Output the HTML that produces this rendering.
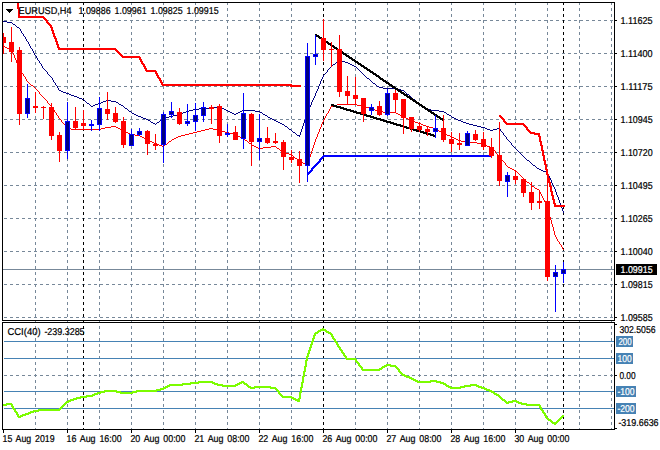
<!DOCTYPE html>
<html><head><meta charset="utf-8"><title>EURUSD,H4</title>
<style>html,body{margin:0;padding:0;background:#fff;overflow:hidden}svg{display:block}text{font-family:"Liberation Sans",sans-serif;font-size:10px;text-rendering:geometricPrecision;fill:#000;stroke:currentColor;stroke-width:0.22px}</style></head><body>
<svg width="660" height="450" viewBox="0 0 660 450">
<rect x="0" y="0" width="660" height="450" fill="#fff"/>
<defs>
<clipPath id="cm"><rect x="3" y="3" width="611" height="317"/></clipPath>
<clipPath id="cc"><rect x="3" y="323" width="611" height="106"/></clipPath>
</defs>
<line x1="3" y1="20.5" x2="614" y2="20.5" stroke="#778899" stroke-width="1" stroke-dasharray="3 3" stroke-dashoffset="5" shape-rendering="crispEdges"/>
<line x1="3" y1="53.5" x2="614" y2="53.5" stroke="#778899" stroke-width="1" stroke-dasharray="3 3" stroke-dashoffset="5" shape-rendering="crispEdges"/>
<line x1="3" y1="86.5" x2="614" y2="86.5" stroke="#778899" stroke-width="1" stroke-dasharray="3 3" stroke-dashoffset="5" shape-rendering="crispEdges"/>
<line x1="3" y1="119.5" x2="614" y2="119.5" stroke="#778899" stroke-width="1" stroke-dasharray="3 3" stroke-dashoffset="5" shape-rendering="crispEdges"/>
<line x1="3" y1="152.5" x2="614" y2="152.5" stroke="#778899" stroke-width="1" stroke-dasharray="3 3" stroke-dashoffset="5" shape-rendering="crispEdges"/>
<line x1="3" y1="185.5" x2="614" y2="185.5" stroke="#778899" stroke-width="1" stroke-dasharray="3 3" stroke-dashoffset="5" shape-rendering="crispEdges"/>
<line x1="3" y1="218.5" x2="614" y2="218.5" stroke="#778899" stroke-width="1" stroke-dasharray="3 3" stroke-dashoffset="5" shape-rendering="crispEdges"/>
<line x1="3" y1="251.5" x2="614" y2="251.5" stroke="#778899" stroke-width="1" stroke-dasharray="3 3" stroke-dashoffset="5" shape-rendering="crispEdges"/>
<line x1="3" y1="284.5" x2="614" y2="284.5" stroke="#778899" stroke-width="1" stroke-dasharray="3 3" stroke-dashoffset="5" shape-rendering="crispEdges"/>
<line x1="3" y1="317.5" x2="614" y2="317.5" stroke="#778899" stroke-width="1" stroke-dasharray="3 3" stroke-dashoffset="5" shape-rendering="crispEdges"/>
<line x1="35.5" y1="3" x2="35.5" y2="429" stroke="#778899" stroke-width="1" stroke-dasharray="3 3" stroke-dashoffset="1" shape-rendering="crispEdges"/>
<line x1="67.5" y1="3" x2="67.5" y2="429" stroke="#778899" stroke-width="1" stroke-dasharray="3 3" stroke-dashoffset="1" shape-rendering="crispEdges"/>
<line x1="99.5" y1="3" x2="99.5" y2="429" stroke="#778899" stroke-width="1" stroke-dasharray="3 3" stroke-dashoffset="1" shape-rendering="crispEdges"/>
<line x1="131.5" y1="3" x2="131.5" y2="429" stroke="#778899" stroke-width="1" stroke-dasharray="3 3" stroke-dashoffset="1" shape-rendering="crispEdges"/>
<line x1="163.5" y1="3" x2="163.5" y2="429" stroke="#778899" stroke-width="1" stroke-dasharray="3 3" stroke-dashoffset="1" shape-rendering="crispEdges"/>
<line x1="195.5" y1="3" x2="195.5" y2="429" stroke="#778899" stroke-width="1" stroke-dasharray="3 3" stroke-dashoffset="1" shape-rendering="crispEdges"/>
<line x1="227.5" y1="3" x2="227.5" y2="429" stroke="#778899" stroke-width="1" stroke-dasharray="3 3" stroke-dashoffset="1" shape-rendering="crispEdges"/>
<line x1="259.5" y1="3" x2="259.5" y2="429" stroke="#778899" stroke-width="1" stroke-dasharray="3 3" stroke-dashoffset="1" shape-rendering="crispEdges"/>
<line x1="291.5" y1="3" x2="291.5" y2="429" stroke="#778899" stroke-width="1" stroke-dasharray="3 3" stroke-dashoffset="1" shape-rendering="crispEdges"/>
<line x1="323.5" y1="3" x2="323.5" y2="429" stroke="#778899" stroke-width="1" stroke-dasharray="3 3" stroke-dashoffset="1" shape-rendering="crispEdges"/>
<line x1="355.5" y1="3" x2="355.5" y2="429" stroke="#778899" stroke-width="1" stroke-dasharray="3 3" stroke-dashoffset="1" shape-rendering="crispEdges"/>
<line x1="387.5" y1="3" x2="387.5" y2="429" stroke="#778899" stroke-width="1" stroke-dasharray="3 3" stroke-dashoffset="1" shape-rendering="crispEdges"/>
<line x1="419.5" y1="3" x2="419.5" y2="429" stroke="#778899" stroke-width="1" stroke-dasharray="3 3" stroke-dashoffset="1" shape-rendering="crispEdges"/>
<line x1="451.5" y1="3" x2="451.5" y2="429" stroke="#778899" stroke-width="1" stroke-dasharray="3 3" stroke-dashoffset="1" shape-rendering="crispEdges"/>
<line x1="483.5" y1="3" x2="483.5" y2="429" stroke="#778899" stroke-width="1" stroke-dasharray="3 3" stroke-dashoffset="1" shape-rendering="crispEdges"/>
<line x1="515.5" y1="3" x2="515.5" y2="429" stroke="#778899" stroke-width="1" stroke-dasharray="3 3" stroke-dashoffset="1" shape-rendering="crispEdges"/>
<line x1="547.5" y1="3" x2="547.5" y2="429" stroke="#778899" stroke-width="1" stroke-dasharray="3 3" stroke-dashoffset="1" shape-rendering="crispEdges"/>
<line x1="579.5" y1="3" x2="579.5" y2="429" stroke="#778899" stroke-width="1" stroke-dasharray="3 3" stroke-dashoffset="1" shape-rendering="crispEdges"/>
<line x1="611.5" y1="3" x2="611.5" y2="429" stroke="#778899" stroke-width="1" stroke-dasharray="3 3" stroke-dashoffset="1" shape-rendering="crispEdges"/>
<line x1="3" y1="375.5" x2="614" y2="375.5" stroke="#778899" stroke-width="1" stroke-dasharray="3 3" stroke-dashoffset="5" shape-rendering="crispEdges"/>
<line x1="83.5" y1="3" x2="83.5" y2="429" stroke="#000" stroke-width="1" stroke-dasharray="3 3" stroke-dashoffset="1" shape-rendering="crispEdges"/>
<line x1="323.5" y1="3" x2="323.5" y2="429" stroke="#000" stroke-width="1" stroke-dasharray="3 3" stroke-dashoffset="1" shape-rendering="crispEdges"/>
<line x1="563.5" y1="3" x2="563.5" y2="429" stroke="#000" stroke-width="1" stroke-dasharray="3 3" stroke-dashoffset="1" shape-rendering="crispEdges"/>
<g clip-path="url(#cm)">
<line x1="3" y1="269.5" x2="614" y2="269.5" stroke="#778899" stroke-width="1" shape-rendering="crispEdges"/>
<path d="M3 21h4v1h-4zM7 22h5v1h-5zM12 23h1v1h-1zM13 24h2v1h-2zM15 25h1v1h-1zM16 26h1v1h-1zM17 27h2v1h-2zM19 28h1v1h-1zM20 29h1v1h-1zM20 30h1v1h-1zM21 31h1v1h-1zM21 32h1v1h-1zM22 33h1v1h-1zM23 34h1v1h-1zM23 35h1v1h-1zM24 36h1v1h-1zM25 37h1v1h-1zM25 38h1v1h-1zM26 39h1v1h-1zM26 40h1v1h-1zM27 41h1v1h-1zM28 42h1v1h-1zM28 43h1v1h-1zM29 44h1v1h-1zM29 45h1v1h-1zM30 46h1v1h-1zM30 47h1v1h-1zM31 48h1v1h-1zM32 49h1v1h-1zM32 50h1v1h-1zM33 51h1v1h-1zM33 52h1v1h-1zM34 53h1v1h-1zM34 54h1v1h-1zM35 55h1v1h-1zM36 56h1v1h-1zM36 57h1v1h-1zM37 58h1v1h-1zM37 59h1v1h-1zM38 60h1v1h-1zM339 60h2v1h-2zM39 61h1v1h-1zM337 61h2v1h-2zM341 61h4v1h-4zM39 62h1v1h-1zM336 62h1v1h-1zM345 62h3v1h-3zM40 63h1v1h-1zM335 63h1v1h-1zM348 63h2v1h-2zM41 64h1v1h-1zM333 64h2v1h-2zM350 64h2v1h-2zM41 65h1v1h-1zM332 65h1v1h-1zM352 65h2v1h-2zM42 66h1v1h-1zM331 66h1v1h-1zM354 66h2v1h-2zM42 67h1v1h-1zM330 67h1v1h-1zM356 67h1v1h-1zM43 68h1v1h-1zM329 68h1v1h-1zM357 68h1v1h-1zM44 69h1v1h-1zM328 69h1v1h-1zM358 69h1v1h-1zM45 70h1v1h-1zM327 70h1v1h-1zM359 70h1v1h-1zM46 71h1v1h-1zM327 71h1v1h-1zM360 71h1v1h-1zM47 72h1v1h-1zM326 72h1v1h-1zM361 72h1v1h-1zM47 73h1v1h-1zM325 73h1v1h-1zM362 73h1v1h-1zM48 74h1v1h-1zM324 74h1v1h-1zM363 74h1v1h-1zM49 75h1v1h-1zM323 75h1v1h-1zM364 75h1v1h-1zM50 76h1v1h-1zM323 76h1v1h-1zM365 76h1v1h-1zM51 77h1v1h-1zM322 77h1v1h-1zM366 77h1v1h-1zM52 78h1v1h-1zM322 78h1v1h-1zM367 78h2v1h-2zM52 79h1v1h-1zM321 79h1v1h-1zM369 79h1v1h-1zM53 80h1v1h-1zM321 80h1v1h-1zM370 80h1v1h-1zM53 81h1v1h-1zM320 81h1v1h-1zM371 81h1v1h-1zM54 82h1v1h-1zM320 82h1v1h-1zM372 82h1v1h-1zM55 83h1v1h-1zM320 83h1v1h-1zM373 83h2v1h-2zM55 84h1v1h-1zM319 84h1v1h-1zM375 84h1v1h-1zM56 85h1v1h-1zM319 85h1v1h-1zM376 85h1v1h-1zM57 86h1v1h-1zM318 86h1v1h-1zM377 86h2v1h-2zM57 87h1v1h-1zM318 87h1v1h-1zM379 87h4v1h-4zM58 88h1v1h-1zM318 88h1v1h-1zM383 88h14v1h-14zM58 89h1v1h-1zM317 89h1v1h-1zM397 89h4v1h-4zM59 90h2v1h-2zM317 90h1v1h-1zM401 90h3v1h-3zM61 91h2v1h-2zM316 91h1v1h-1zM404 91h1v1h-1zM63 92h3v1h-3zM316 92h1v1h-1zM405 92h1v1h-1zM66 93h3v1h-3zM315 93h1v1h-1zM406 93h1v1h-1zM69 94h2v1h-2zM315 94h1v1h-1zM407 94h2v1h-2zM71 95h3v1h-3zM315 95h1v1h-1zM409 95h1v1h-1zM74 96h3v1h-3zM314 96h1v1h-1zM410 96h1v1h-1zM77 97h2v1h-2zM314 97h1v1h-1zM411 97h1v1h-1zM79 98h3v1h-3zM313 98h1v1h-1zM412 98h1v1h-1zM82 99h2v1h-2zM313 99h1v1h-1zM413 99h2v1h-2zM84 100h1v1h-1zM106 100h5v1h-5zM312 100h1v1h-1zM415 100h1v1h-1zM85 101h1v1h-1zM103 101h3v1h-3zM111 101h5v1h-5zM312 101h1v1h-1zM416 101h1v1h-1zM86 102h1v1h-1zM101 102h2v1h-2zM116 102h2v1h-2zM311 102h1v1h-1zM417 102h2v1h-2zM87 103h2v1h-2zM98 103h3v1h-3zM118 103h1v1h-1zM311 103h1v1h-1zM419 103h1v1h-1zM89 104h1v1h-1zM95 104h3v1h-3zM119 104h2v1h-2zM311 104h1v1h-1zM420 104h1v1h-1zM90 105h1v1h-1zM93 105h2v1h-2zM121 105h2v1h-2zM310 105h1v1h-1zM421 105h2v1h-2zM91 106h2v1h-2zM123 106h1v1h-1zM217 106h3v1h-3zM310 106h1v1h-1zM423 106h1v1h-1zM124 107h1v1h-1zM213 107h4v1h-4zM220 107h2v1h-2zM309 107h1v1h-1zM424 107h1v1h-1zM125 108h2v1h-2zM199 108h14v1h-14zM222 108h2v1h-2zM309 108h1v1h-1zM425 108h2v1h-2zM127 109h1v1h-1zM193 109h6v1h-6zM224 109h2v1h-2zM308 109h1v1h-1zM427 109h4v1h-4zM128 110h1v1h-1zM189 110h4v1h-4zM226 110h2v1h-2zM242 110h13v1h-13zM308 110h1v1h-1zM431 110h8v1h-8zM129 111h2v1h-2zM186 111h3v1h-3zM228 111h2v1h-2zM240 111h2v1h-2zM255 111h5v1h-5zM307 111h1v1h-1zM439 111h5v1h-5zM131 112h1v1h-1zM183 112h3v1h-3zM230 112h2v1h-2zM238 112h2v1h-2zM260 112h2v1h-2zM307 112h1v1h-1zM444 112h2v1h-2zM132 113h2v1h-2zM181 113h2v1h-2zM232 113h2v1h-2zM236 113h2v1h-2zM262 113h1v1h-1zM307 113h1v1h-1zM446 113h1v1h-1zM134 114h2v1h-2zM177 114h4v1h-4zM234 114h2v1h-2zM263 114h2v1h-2zM306 114h1v1h-1zM447 114h2v1h-2zM136 115h2v1h-2zM173 115h4v1h-4zM265 115h2v1h-2zM306 115h1v1h-1zM449 115h2v1h-2zM138 116h3v1h-3zM169 116h4v1h-4zM267 116h1v1h-1zM306 116h1v1h-1zM451 116h1v1h-1zM141 117h2v1h-2zM165 117h4v1h-4zM268 117h2v1h-2zM305 117h1v1h-1zM452 117h2v1h-2zM143 118h3v1h-3zM163 118h2v1h-2zM270 118h2v1h-2zM305 118h1v1h-1zM454 118h2v1h-2zM146 119h2v1h-2zM161 119h2v1h-2zM272 119h2v1h-2zM305 119h1v1h-1zM456 119h2v1h-2zM148 120h2v1h-2zM160 120h1v1h-1zM274 120h2v1h-2zM304 120h1v1h-1zM458 120h3v1h-3zM150 121h1v1h-1zM159 121h1v1h-1zM276 121h2v1h-2zM304 121h1v1h-1zM461 121h2v1h-2zM151 122h2v1h-2zM157 122h2v1h-2zM278 122h2v1h-2zM304 122h1v1h-1zM463 122h3v1h-3zM153 123h2v1h-2zM156 123h1v1h-1zM280 123h2v1h-2zM303 123h1v1h-1zM466 123h3v1h-3zM155 124h1v1h-1zM282 124h2v1h-2zM303 124h1v1h-1zM469 124h4v1h-4zM284 125h1v1h-1zM303 125h1v1h-1zM473 125h4v1h-4zM285 126h2v1h-2zM302 126h1v1h-1zM477 126h4v1h-4zM287 127h1v1h-1zM302 127h1v1h-1zM481 127h4v1h-4zM288 128h1v1h-1zM302 128h1v1h-1zM485 128h2v1h-2zM497 128h3v1h-3zM289 129h2v1h-2zM301 129h1v1h-1zM487 129h3v1h-3zM493 129h4v1h-4zM500 129h1v1h-1zM291 130h1v1h-1zM301 130h1v1h-1zM490 130h3v1h-3zM500 130h1v1h-1zM292 131h1v1h-1zM301 131h1v1h-1zM501 131h1v1h-1zM293 132h2v1h-2zM300 132h1v1h-1zM502 132h1v1h-1zM295 133h1v1h-1zM300 133h1v1h-1zM503 133h1v1h-1zM296 134h1v1h-1zM300 134h1v1h-1zM503 134h1v1h-1zM297 135h3v1h-3zM504 135h1v1h-1zM299 136h1v1h-1zM505 136h1v1h-1zM506 137h1v1h-1zM506 138h1v1h-1zM507 139h1v1h-1zM508 140h1v1h-1zM509 141h1v1h-1zM510 142h1v1h-1zM511 143h1v1h-1zM511 144h1v1h-1zM512 145h1v1h-1zM513 146h1v1h-1zM514 147h1v1h-1zM515 148h1v1h-1zM516 149h1v1h-1zM517 150h1v1h-1zM518 151h1v1h-1zM519 152h1v1h-1zM520 153h1v1h-1zM521 154h1v1h-1zM522 155h1v1h-1zM523 156h1v1h-1zM524 157h1v1h-1zM525 158h1v1h-1zM526 159h1v1h-1zM527 160h2v1h-2zM529 161h1v1h-1zM530 162h1v1h-1zM531 163h1v1h-1zM532 164h1v1h-1zM533 165h2v1h-2zM535 166h1v1h-1zM536 167h1v1h-1zM537 168h2v1h-2zM539 169h2v1h-2zM541 170h2v1h-2zM543 171h3v1h-3zM546 172h2v1h-2zM547 173h1v1h-1zM548 174h1v1h-1zM548 175h1v1h-1zM549 176h1v1h-1zM549 177h1v1h-1zM550 178h1v1h-1zM550 179h1v1h-1zM551 180h1v1h-1zM551 181h1v1h-1zM551 182h1v1h-1zM552 183h1v1h-1zM552 184h1v1h-1zM553 185h1v1h-1zM553 186h1v1h-1zM554 187h1v1h-1zM554 188h1v1h-1zM555 189h1v1h-1zM555 190h1v1h-1zM555 191h1v1h-1zM556 192h1v1h-1zM556 193h1v1h-1zM556 194h1v1h-1zM557 195h1v1h-1zM557 196h1v1h-1zM558 197h1v1h-1zM558 198h1v1h-1zM558 199h1v1h-1zM559 200h1v1h-1zM559 201h1v1h-1zM559 202h1v1h-1zM560 203h1v1h-1zM560 204h1v1h-1zM560 205h1v1h-1zM561 206h1v1h-1zM561 207h1v1h-1zM562 208h1v1h-1zM562 209h1v1h-1zM562 210h1v1h-1zM563 211h1v1h-1zM563 212h1v1h-1z" fill="#000080" shape-rendering="crispEdges"/>
<path d="M3 46h2v1h-2zM5 47h2v1h-2zM7 48h3v1h-3zM10 49h2v1h-2zM11 50h1v1h-1zM12 51h1v1h-1zM12 52h1v1h-1zM13 53h1v1h-1zM13 54h1v1h-1zM14 55h1v1h-1zM14 56h1v1h-1zM14 57h1v1h-1zM15 58h1v1h-1zM15 59h1v1h-1zM16 60h1v1h-1zM16 61h1v1h-1zM16 62h1v1h-1zM17 63h1v1h-1zM17 64h1v1h-1zM18 65h1v1h-1zM18 66h1v1h-1zM19 67h1v1h-1zM19 68h1v1h-1zM20 69h1v1h-1zM20 70h1v1h-1zM21 71h1v1h-1zM21 72h1v1h-1zM22 73h1v1h-1zM23 74h1v1h-1zM23 75h1v1h-1zM24 76h1v1h-1zM25 77h1v1h-1zM25 78h1v1h-1zM26 79h1v1h-1zM26 80h1v1h-1zM27 81h1v1h-1zM28 82h1v1h-1zM29 83h1v1h-1zM30 84h1v1h-1zM31 85h2v1h-2zM33 86h1v1h-1zM34 87h1v1h-1zM35 88h1v1h-1zM36 89h1v1h-1zM37 90h1v1h-1zM38 91h1v1h-1zM39 92h1v1h-1zM39 93h1v1h-1zM40 94h1v1h-1zM41 95h1v1h-1zM42 96h1v1h-1zM43 97h1v1h-1zM44 98h1v1h-1zM45 99h1v1h-1zM46 100h1v1h-1zM47 101h1v1h-1zM47 102h1v1h-1zM48 103h1v1h-1zM49 104h1v1h-1zM337 104h20v1h-20zM50 105h1v1h-1zM333 105h4v1h-4zM357 105h4v1h-4zM51 106h1v1h-1zM331 106h2v1h-2zM361 106h4v1h-4zM52 107h1v1h-1zM330 107h1v1h-1zM365 107h4v1h-4zM52 108h1v1h-1zM330 108h1v1h-1zM369 108h4v1h-4zM53 109h1v1h-1zM329 109h1v1h-1zM373 109h2v1h-2zM54 110h1v1h-1zM329 110h1v1h-1zM375 110h3v1h-3zM54 111h1v1h-1zM328 111h1v1h-1zM378 111h5v1h-5zM55 112h1v1h-1zM328 112h1v1h-1zM383 112h13v1h-13zM56 113h1v1h-1zM327 113h1v1h-1zM396 113h2v1h-2zM56 114h1v1h-1zM326 114h1v1h-1zM398 114h2v1h-2zM57 115h1v1h-1zM326 115h1v1h-1zM400 115h2v1h-2zM58 116h1v1h-1zM325 116h1v1h-1zM402 116h2v1h-2zM58 117h1v1h-1zM325 117h1v1h-1zM404 117h2v1h-2zM59 118h1v1h-1zM324 118h1v1h-1zM406 118h2v1h-2zM60 119h1v1h-1zM324 119h1v1h-1zM408 119h2v1h-2zM61 120h1v1h-1zM323 120h1v1h-1zM410 120h3v1h-3zM61 121h1v1h-1zM323 121h1v1h-1zM413 121h2v1h-2zM62 122h1v1h-1zM322 122h1v1h-1zM415 122h3v1h-3zM63 123h1v1h-1zM322 123h1v1h-1zM418 123h3v1h-3zM64 124h1v1h-1zM321 124h1v1h-1zM421 124h2v1h-2zM65 125h1v1h-1zM321 125h1v1h-1zM423 125h3v1h-3zM65 126h1v1h-1zM111 126h5v1h-5zM321 126h1v1h-1zM426 126h3v1h-3zM66 127h1v1h-1zM105 127h6v1h-6zM116 127h2v1h-2zM320 127h1v1h-1zM429 127h4v1h-4zM67 128h4v1h-4zM101 128h4v1h-4zM118 128h2v1h-2zM209 128h4v1h-4zM320 128h1v1h-1zM433 128h3v1h-3zM71 129h30v1h-30zM120 129h2v1h-2zM205 129h4v1h-4zM213 129h4v1h-4zM319 129h1v1h-1zM436 129h2v1h-2zM122 130h2v1h-2zM201 130h4v1h-4zM217 130h4v1h-4zM319 130h1v1h-1zM438 130h1v1h-1zM124 131h2v1h-2zM197 131h4v1h-4zM221 131h4v1h-4zM319 131h1v1h-1zM439 131h2v1h-2zM126 132h2v1h-2zM193 132h4v1h-4zM225 132h4v1h-4zM318 132h1v1h-1zM441 132h2v1h-2zM128 133h2v1h-2zM189 133h4v1h-4zM229 133h4v1h-4zM318 133h1v1h-1zM443 133h2v1h-2zM130 134h5v1h-5zM185 134h4v1h-4zM233 134h3v1h-3zM317 134h1v1h-1zM445 134h2v1h-2zM135 135h5v1h-5zM181 135h4v1h-4zM236 135h2v1h-2zM317 135h1v1h-1zM447 135h3v1h-3zM140 136h2v1h-2zM178 136h3v1h-3zM238 136h2v1h-2zM317 136h1v1h-1zM450 136h2v1h-2zM142 137h2v1h-2zM176 137h2v1h-2zM240 137h2v1h-2zM316 137h1v1h-1zM452 137h2v1h-2zM144 138h2v1h-2zM174 138h2v1h-2zM242 138h2v1h-2zM316 138h1v1h-1zM454 138h2v1h-2zM146 139h2v1h-2zM172 139h2v1h-2zM244 139h1v1h-1zM315 139h1v1h-1zM456 139h2v1h-2zM148 140h2v1h-2zM171 140h1v1h-1zM245 140h2v1h-2zM315 140h1v1h-1zM458 140h3v1h-3zM150 141h2v1h-2zM169 141h2v1h-2zM247 141h1v1h-1zM315 141h1v1h-1zM461 141h4v1h-4zM152 142h2v1h-2zM168 142h1v1h-1zM248 142h1v1h-1zM314 142h1v1h-1zM465 142h12v1h-12zM154 143h3v1h-3zM167 143h1v1h-1zM249 143h2v1h-2zM314 143h1v1h-1zM477 143h4v1h-4zM157 144h2v1h-2zM165 144h2v1h-2zM251 144h1v1h-1zM314 144h1v1h-1zM481 144h4v1h-4zM159 145h3v1h-3zM164 145h1v1h-1zM252 145h2v1h-2zM313 145h1v1h-1zM485 145h2v1h-2zM162 146h2v1h-2zM254 146h2v1h-2zM271 146h5v1h-5zM313 146h1v1h-1zM487 146h3v1h-3zM256 147h2v1h-2zM263 147h8v1h-8zM276 147h1v1h-1zM313 147h1v1h-1zM490 147h2v1h-2zM258 148h5v1h-5zM277 148h2v1h-2zM312 148h1v1h-1zM492 148h1v1h-1zM279 149h1v1h-1zM312 149h1v1h-1zM493 149h1v1h-1zM280 150h1v1h-1zM312 150h1v1h-1zM494 150h1v1h-1zM281 151h2v1h-2zM311 151h1v1h-1zM495 151h1v1h-1zM283 152h2v1h-2zM311 152h1v1h-1zM495 152h1v1h-1zM285 153h4v1h-4zM311 153h1v1h-1zM496 153h1v1h-1zM289 154h3v1h-3zM310 154h1v1h-1zM497 154h1v1h-1zM292 155h1v1h-1zM310 155h1v1h-1zM498 155h1v1h-1zM293 156h1v1h-1zM310 156h1v1h-1zM499 156h1v1h-1zM294 157h1v1h-1zM309 157h1v1h-1zM500 157h1v1h-1zM295 158h2v1h-2zM309 158h1v1h-1zM501 158h1v1h-1zM297 159h1v1h-1zM309 159h1v1h-1zM501 159h1v1h-1zM298 160h1v1h-1zM308 160h1v1h-1zM502 160h1v1h-1zM299 161h2v1h-2zM308 161h1v1h-1zM503 161h1v1h-1zM301 162h2v1h-2zM308 162h1v1h-1zM504 162h1v1h-1zM303 163h3v1h-3zM307 163h1v1h-1zM505 163h1v1h-1zM306 164h2v1h-2zM505 164h1v1h-1zM506 165h1v1h-1zM507 166h1v1h-1zM508 167h2v1h-2zM510 168h2v1h-2zM512 169h2v1h-2zM514 170h2v1h-2zM516 171h1v1h-1zM517 172h1v1h-1zM518 173h1v1h-1zM519 174h1v1h-1zM520 175h1v1h-1zM521 176h1v1h-1zM522 177h1v1h-1zM523 178h1v1h-1zM524 179h1v1h-1zM525 180h1v1h-1zM526 181h1v1h-1zM527 182h2v1h-2zM529 183h1v1h-1zM530 184h1v1h-1zM531 185h1v1h-1zM532 186h2v1h-2zM534 187h1v1h-1zM535 188h2v1h-2zM537 189h2v1h-2zM539 190h1v1h-1zM539 191h1v1h-1zM540 192h1v1h-1zM540 193h1v1h-1zM541 194h1v1h-1zM541 195h1v1h-1zM542 196h1v1h-1zM542 197h1v1h-1zM543 198h1v1h-1zM543 199h1v1h-1zM544 200h1v1h-1zM544 201h1v1h-1zM545 202h1v1h-1zM545 203h1v1h-1zM546 204h1v1h-1zM546 205h1v1h-1zM547 206h1v1h-1zM547 207h1v1h-1zM547 208h1v1h-1zM548 209h1v1h-1zM548 210h1v1h-1zM548 211h1v1h-1zM548 212h1v1h-1zM549 213h1v1h-1zM549 214h1v1h-1zM549 215h1v1h-1zM549 216h1v1h-1zM550 217h1v1h-1zM550 218h1v1h-1zM550 219h1v1h-1zM551 220h1v1h-1zM551 221h1v1h-1zM551 222h1v1h-1zM551 223h1v1h-1zM552 224h1v1h-1zM552 225h1v1h-1zM552 226h1v1h-1zM553 227h1v1h-1zM553 228h1v1h-1zM553 229h1v1h-1zM553 230h1v1h-1zM554 231h1v1h-1zM554 232h1v1h-1zM554 233h1v1h-1zM554 234h1v1h-1zM555 235h1v1h-1zM555 236h1v1h-1zM556 237h1v1h-1zM556 238h1v1h-1zM557 239h1v1h-1zM557 240h1v1h-1zM558 241h1v1h-1zM559 242h1v1h-1zM559 243h1v1h-1zM560 244h1v1h-1zM561 245h1v1h-1zM561 246h1v1h-1zM562 247h1v1h-1zM562 248h1v1h-1zM563 249h1v1h-1z" fill="#ff0000" shape-rendering="crispEdges"/>
<path d="M17 3h2v1h-2zM17 4h2v1h-2zM17 5h2v1h-2zM17 6h2v1h-2zM17 7h2v1h-2zM17 8h3v1h-3zM18 9h2v1h-2zM18 10h2v1h-2zM18 11h2v1h-2zM18 12h2v1h-2zM18 13h2v1h-2zM18 14h2v1h-2zM18 15h2v1h-2zM18 16h26v1h-26zM18 17h27v1h-27zM43 18h3v1h-3zM44 19h3v1h-3zM45 20h3v1h-3zM46 21h2v1h-2zM46 22h3v1h-3zM47 23h3v1h-3zM48 24h3v1h-3zM49 25h3v1h-3zM50 26h2v1h-2zM50 27h3v1h-3zM51 28h2v1h-2zM51 29h2v1h-2zM51 30h3v1h-3zM52 31h2v1h-2zM52 32h2v1h-2zM52 33h3v1h-3zM53 34h2v1h-2zM53 35h2v1h-2zM53 36h3v1h-3zM54 37h2v1h-2zM54 38h3v1h-3zM55 39h2v1h-2zM55 40h2v1h-2zM55 41h3v1h-3zM56 42h2v1h-2zM56 43h2v1h-2zM56 44h3v1h-3zM57 45h2v1h-2zM57 46h2v1h-2zM57 47h3v1h-3zM58 48h58v1h-58zM58 49h59v1h-59zM115 50h3v1h-3zM116 51h3v1h-3zM117 52h3v1h-3zM118 53h3v1h-3zM119 54h3v1h-3zM120 55h3v1h-3zM121 56h19v1h-19zM122 57h19v1h-19zM139 58h2v1h-2zM139 59h3v1h-3zM140 60h2v1h-2zM140 61h3v1h-3zM141 62h2v1h-2zM141 63h3v1h-3zM142 64h3v1h-3zM143 65h2v1h-2zM143 66h3v1h-3zM144 67h2v1h-2zM144 68h3v1h-3zM145 69h2v1h-2zM145 70h11v1h-11zM146 71h11v1h-11zM155 72h2v1h-2zM155 73h3v1h-3zM156 74h2v1h-2zM156 75h3v1h-3zM157 76h2v1h-2zM157 77h3v1h-3zM158 78h3v1h-3zM159 79h2v1h-2zM159 80h3v1h-3zM160 81h2v1h-2zM160 82h3v1h-3zM161 83h2v1h-2zM161 84h131v1h-131zM162 85h139v1h-139zM290 86h11v1h-11z" fill="#ff0000" shape-rendering="crispEdges"/>
<path d="M499 115h2v1h-2zM499 116h3v1h-3zM500 117h3v1h-3zM501 118h3v1h-3zM502 119h3v1h-3zM503 120h2v1h-2zM503 121h3v1h-3zM504 122h3v1h-3zM505 123h19v1h-19zM506 124h19v1h-19zM523 125h3v1h-3zM524 126h3v1h-3zM525 127h3v1h-3zM526 128h2v1h-2zM526 129h3v1h-3zM527 130h3v1h-3zM528 131h3v1h-3zM529 132h6v1h-6zM530 133h10v1h-10zM534 134h6v1h-6zM538 135h2v1h-2zM538 136h3v1h-3zM539 137h2v1h-2zM539 138h2v1h-2zM539 139h2v1h-2zM539 140h2v1h-2zM539 141h3v1h-3zM540 142h2v1h-2zM540 143h2v1h-2zM540 144h2v1h-2zM540 145h3v1h-3zM541 146h2v1h-2zM541 147h2v1h-2zM541 148h2v1h-2zM541 149h2v1h-2zM541 150h3v1h-3zM542 151h2v1h-2zM542 152h2v1h-2zM542 153h2v1h-2zM542 154h2v1h-2zM542 155h3v1h-3zM543 156h2v1h-2zM543 157h2v1h-2zM543 158h2v1h-2zM543 159h2v1h-2zM543 160h3v1h-3zM544 161h2v1h-2zM544 162h2v1h-2zM544 163h2v1h-2zM544 164h3v1h-3zM545 165h2v1h-2zM545 166h2v1h-2zM545 167h2v1h-2zM545 168h2v1h-2zM545 169h3v1h-3zM546 170h2v1h-2zM546 171h2v1h-2zM546 172h2v1h-2zM546 173h2v1h-2zM546 174h3v1h-3zM547 175h2v1h-2zM547 176h2v1h-2zM547 177h2v1h-2zM547 178h3v1h-3zM548 179h2v1h-2zM548 180h2v1h-2zM548 181h2v1h-2zM548 182h3v1h-3zM549 183h2v1h-2zM549 184h2v1h-2zM549 185h2v1h-2zM549 186h3v1h-3zM550 187h2v1h-2zM550 188h2v1h-2zM550 189h2v1h-2zM550 190h2v1h-2zM550 191h3v1h-3zM551 192h2v1h-2zM551 193h2v1h-2zM551 194h2v1h-2zM551 195h3v1h-3zM552 196h2v1h-2zM552 197h2v1h-2zM552 198h2v1h-2zM552 199h3v1h-3zM553 200h2v1h-2zM553 201h2v1h-2zM553 202h2v1h-2zM553 203h3v1h-3zM554 204h2v1h-2zM554 205h11v1h-11zM554 206h11v1h-11z" fill="#ff0000" shape-rendering="crispEdges"/>
<path d="M323 155h169v1h-169zM322 156h170v1h-170zM321 157h3v1h-3zM320 158h3v1h-3zM319 159h3v1h-3zM319 160h2v1h-2zM318 161h3v1h-3zM317 162h3v1h-3zM316 163h3v1h-3zM315 164h3v1h-3zM314 165h3v1h-3zM313 166h3v1h-3zM312 167h3v1h-3zM311 168h3v1h-3zM311 169h2v1h-2zM310 170h3v1h-3zM309 171h3v1h-3zM308 172h3v1h-3zM307 173h3v1h-3zM307 174h2v1h-2z" fill="#0000ff" shape-rendering="crispEdges"/>
<path d="M315 34h2v1h-2zM315 35h4v1h-4zM316 36h4v1h-4zM318 37h4v1h-4zM319 38h4v1h-4zM321 39h4v1h-4zM322 40h4v1h-4zM324 41h4v1h-4zM325 42h4v1h-4zM327 43h4v1h-4zM328 44h4v1h-4zM330 45h4v1h-4zM331 46h4v1h-4zM333 47h4v1h-4zM334 48h4v1h-4zM336 49h4v1h-4zM337 50h4v1h-4zM339 51h4v1h-4zM340 52h4v1h-4zM342 53h4v1h-4zM343 54h4v1h-4zM345 55h4v1h-4zM346 56h4v1h-4zM348 57h4v1h-4zM349 58h4v1h-4zM351 59h4v1h-4zM352 60h4v1h-4zM354 61h4v1h-4zM355 62h4v1h-4zM357 63h4v1h-4zM358 64h4v1h-4zM360 65h4v1h-4zM361 66h4v1h-4zM363 67h4v1h-4zM364 68h4v1h-4zM366 69h4v1h-4zM367 70h4v1h-4zM369 71h4v1h-4zM370 72h4v1h-4zM372 73h4v1h-4zM373 74h4v1h-4zM375 75h4v1h-4zM376 76h4v1h-4zM378 77h3v1h-3zM379 78h4v1h-4zM380 79h4v1h-4zM382 80h4v1h-4zM383 81h4v1h-4zM385 82h4v1h-4zM386 83h4v1h-4zM388 84h4v1h-4zM389 85h4v1h-4zM391 86h4v1h-4zM392 87h4v1h-4zM394 88h4v1h-4zM395 89h4v1h-4zM397 90h4v1h-4zM398 91h4v1h-4zM400 92h4v1h-4zM401 93h4v1h-4zM403 94h4v1h-4zM404 95h4v1h-4zM406 96h4v1h-4zM407 97h4v1h-4zM409 98h4v1h-4zM410 99h4v1h-4zM412 100h4v1h-4zM413 101h4v1h-4zM415 102h4v1h-4zM416 103h4v1h-4zM418 104h4v1h-4zM419 105h4v1h-4zM421 106h4v1h-4zM422 107h4v1h-4zM424 108h4v1h-4zM425 109h4v1h-4zM427 110h4v1h-4zM428 111h4v1h-4zM430 112h4v1h-4zM431 113h4v1h-4zM433 114h4v1h-4zM434 115h4v1h-4zM436 116h4v1h-4zM437 117h4v1h-4zM439 118h4v1h-4zM440 119h4v1h-4zM442 120h2v1h-2z" fill="#000" shape-rendering="crispEdges"/>
<path d="M331 104h3v1h-3zM331 105h6v1h-6zM333 106h8v1h-8zM336 107h8v1h-8zM340 108h7v1h-7zM343 109h8v1h-8zM346 110h8v1h-8zM350 111h7v1h-7zM353 112h8v1h-8zM356 113h8v1h-8zM360 114h7v1h-7zM363 115h8v1h-8zM366 116h8v1h-8zM370 117h7v1h-7zM373 118h8v1h-8zM376 119h8v1h-8zM380 120h7v1h-7zM383 121h8v1h-8zM386 122h8v1h-8zM390 123h7v1h-7zM393 124h8v1h-8zM396 125h8v1h-8zM400 126h7v1h-7zM403 127h8v1h-8zM406 128h8v1h-8zM410 129h7v1h-7zM413 130h8v1h-8zM416 131h8v1h-8zM420 132h7v1h-7zM423 133h8v1h-8zM426 134h8v1h-8zM430 135h6v1h-6zM433 136h3v1h-3z" fill="#000" shape-rendering="crispEdges"/>
<rect x="3" y="33" width="1" height="21" fill="#ff0000" shape-rendering="crispEdges"/>
<rect x="1" y="37" width="5" height="6" fill="#ff0000" shape-rendering="crispEdges"/>
<rect x="11" y="27" width="1" height="35" fill="#ff0000" shape-rendering="crispEdges"/>
<rect x="9" y="42" width="5" height="10" fill="#ff0000" shape-rendering="crispEdges"/>
<rect x="19" y="47" width="1" height="78" fill="#ff0000" shape-rendering="crispEdges"/>
<rect x="17" y="50" width="5" height="64" fill="#ff0000" shape-rendering="crispEdges"/>
<rect x="27" y="84" width="1" height="34" fill="#0000ff" shape-rendering="crispEdges"/>
<rect x="25" y="98" width="5" height="16" fill="#0000ff" shape-rendering="crispEdges"/>
<rect x="26" y="99" width="3" height="14" fill="#000080" shape-rendering="crispEdges"/>
<rect x="35" y="92" width="1" height="21" fill="#ff0000" shape-rendering="crispEdges"/>
<rect x="33" y="106" width="5" height="2" fill="#ff0000" shape-rendering="crispEdges"/>
<rect x="43" y="106" width="1" height="13" fill="#ff0000" shape-rendering="crispEdges"/>
<rect x="41" y="107" width="5" height="1" fill="#ff0000" shape-rendering="crispEdges"/>
<rect x="51" y="103" width="1" height="37" fill="#ff0000" shape-rendering="crispEdges"/>
<rect x="49" y="107" width="5" height="29" fill="#ff0000" shape-rendering="crispEdges"/>
<rect x="59" y="132" width="1" height="30" fill="#ff0000" shape-rendering="crispEdges"/>
<rect x="57" y="135" width="5" height="16" fill="#ff0000" shape-rendering="crispEdges"/>
<rect x="67" y="102" width="1" height="57" fill="#0000ff" shape-rendering="crispEdges"/>
<rect x="65" y="121" width="5" height="30" fill="#0000ff" shape-rendering="crispEdges"/>
<rect x="66" y="122" width="3" height="28" fill="#000080" shape-rendering="crispEdges"/>
<rect x="75" y="107" width="1" height="22" fill="#ff0000" shape-rendering="crispEdges"/>
<rect x="73" y="121" width="5" height="7" fill="#ff0000" shape-rendering="crispEdges"/>
<rect x="83" y="110" width="1" height="19" fill="#ff0000" shape-rendering="crispEdges"/>
<rect x="81" y="123" width="5" height="3" fill="#ff0000" shape-rendering="crispEdges"/>
<rect x="91" y="120" width="1" height="11" fill="#0000ff" shape-rendering="crispEdges"/>
<rect x="89" y="124" width="5" height="2" fill="#0000ff" shape-rendering="crispEdges"/>
<rect x="99" y="97" width="1" height="34" fill="#0000ff" shape-rendering="crispEdges"/>
<rect x="97" y="108" width="5" height="17" fill="#0000ff" shape-rendering="crispEdges"/>
<rect x="98" y="109" width="3" height="15" fill="#000080" shape-rendering="crispEdges"/>
<rect x="107" y="92" width="1" height="28" fill="#ff0000" shape-rendering="crispEdges"/>
<rect x="105" y="109" width="5" height="5" fill="#ff0000" shape-rendering="crispEdges"/>
<rect x="115" y="107" width="1" height="16" fill="#ff0000" shape-rendering="crispEdges"/>
<rect x="113" y="113" width="5" height="9" fill="#ff0000" shape-rendering="crispEdges"/>
<rect x="123" y="117" width="1" height="31" fill="#ff0000" shape-rendering="crispEdges"/>
<rect x="121" y="121" width="5" height="24" fill="#ff0000" shape-rendering="crispEdges"/>
<rect x="131" y="129" width="1" height="17" fill="#0000ff" shape-rendering="crispEdges"/>
<rect x="129" y="134" width="5" height="12" fill="#0000ff" shape-rendering="crispEdges"/>
<rect x="130" y="135" width="3" height="10" fill="#000080" shape-rendering="crispEdges"/>
<rect x="139" y="128" width="1" height="8" fill="#0000ff" shape-rendering="crispEdges"/>
<rect x="137" y="131" width="5" height="4" fill="#0000ff" shape-rendering="crispEdges"/>
<rect x="138" y="132" width="3" height="2" fill="#000080" shape-rendering="crispEdges"/>
<rect x="147" y="130" width="1" height="25" fill="#ff0000" shape-rendering="crispEdges"/>
<rect x="145" y="131" width="5" height="13" fill="#ff0000" shape-rendering="crispEdges"/>
<rect x="155" y="134" width="1" height="16" fill="#ff0000" shape-rendering="crispEdges"/>
<rect x="153" y="144" width="5" height="2" fill="#ff0000" shape-rendering="crispEdges"/>
<rect x="163" y="112" width="1" height="51" fill="#0000ff" shape-rendering="crispEdges"/>
<rect x="161" y="114" width="5" height="31" fill="#0000ff" shape-rendering="crispEdges"/>
<rect x="162" y="115" width="3" height="29" fill="#000080" shape-rendering="crispEdges"/>
<rect x="171" y="102" width="1" height="16" fill="#0000ff" shape-rendering="crispEdges"/>
<rect x="169" y="111" width="5" height="4" fill="#0000ff" shape-rendering="crispEdges"/>
<rect x="170" y="112" width="3" height="2" fill="#000080" shape-rendering="crispEdges"/>
<rect x="179" y="108" width="1" height="17" fill="#ff0000" shape-rendering="crispEdges"/>
<rect x="177" y="112" width="5" height="12" fill="#ff0000" shape-rendering="crispEdges"/>
<rect x="187" y="104" width="1" height="22" fill="#0000ff" shape-rendering="crispEdges"/>
<rect x="185" y="121" width="5" height="3" fill="#0000ff" shape-rendering="crispEdges"/>
<rect x="186" y="122" width="3" height="1" fill="#000080" shape-rendering="crispEdges"/>
<rect x="195" y="103" width="1" height="28" fill="#0000ff" shape-rendering="crispEdges"/>
<rect x="193" y="115" width="5" height="7" fill="#0000ff" shape-rendering="crispEdges"/>
<rect x="194" y="116" width="3" height="5" fill="#000080" shape-rendering="crispEdges"/>
<rect x="203" y="102" width="1" height="20" fill="#0000ff" shape-rendering="crispEdges"/>
<rect x="201" y="107" width="5" height="9" fill="#0000ff" shape-rendering="crispEdges"/>
<rect x="202" y="108" width="3" height="7" fill="#000080" shape-rendering="crispEdges"/>
<rect x="211" y="105" width="1" height="19" fill="#ff0000" shape-rendering="crispEdges"/>
<rect x="209" y="107" width="5" height="2" fill="#ff0000" shape-rendering="crispEdges"/>
<rect x="219" y="104" width="1" height="39" fill="#ff0000" shape-rendering="crispEdges"/>
<rect x="217" y="106" width="5" height="30" fill="#ff0000" shape-rendering="crispEdges"/>
<rect x="227" y="124" width="1" height="13" fill="#0000ff" shape-rendering="crispEdges"/>
<rect x="225" y="133" width="5" height="2" fill="#0000ff" shape-rendering="crispEdges"/>
<rect x="235" y="126" width="1" height="14" fill="#ff0000" shape-rendering="crispEdges"/>
<rect x="233" y="132" width="5" height="8" fill="#ff0000" shape-rendering="crispEdges"/>
<rect x="243" y="93" width="1" height="56" fill="#0000ff" shape-rendering="crispEdges"/>
<rect x="241" y="113" width="5" height="26" fill="#0000ff" shape-rendering="crispEdges"/>
<rect x="242" y="114" width="3" height="24" fill="#000080" shape-rendering="crispEdges"/>
<rect x="251" y="113" width="1" height="53" fill="#ff0000" shape-rendering="crispEdges"/>
<rect x="249" y="114" width="5" height="28" fill="#ff0000" shape-rendering="crispEdges"/>
<rect x="259" y="114" width="1" height="46" fill="#0000ff" shape-rendering="crispEdges"/>
<rect x="257" y="138" width="5" height="4" fill="#0000ff" shape-rendering="crispEdges"/>
<rect x="258" y="139" width="3" height="2" fill="#000080" shape-rendering="crispEdges"/>
<rect x="267" y="127" width="1" height="17" fill="#ff0000" shape-rendering="crispEdges"/>
<rect x="265" y="138" width="5" height="5" fill="#ff0000" shape-rendering="crispEdges"/>
<rect x="275" y="133" width="1" height="11" fill="#ff0000" shape-rendering="crispEdges"/>
<rect x="273" y="141" width="5" height="2" fill="#ff0000" shape-rendering="crispEdges"/>
<rect x="283" y="140" width="1" height="30" fill="#ff0000" shape-rendering="crispEdges"/>
<rect x="281" y="142" width="5" height="15" fill="#ff0000" shape-rendering="crispEdges"/>
<rect x="291" y="150" width="1" height="13" fill="#ff0000" shape-rendering="crispEdges"/>
<rect x="289" y="157" width="5" height="3" fill="#ff0000" shape-rendering="crispEdges"/>
<rect x="299" y="151" width="1" height="32" fill="#ff0000" shape-rendering="crispEdges"/>
<rect x="297" y="159" width="5" height="7" fill="#ff0000" shape-rendering="crispEdges"/>
<rect x="307" y="43" width="1" height="139" fill="#0000ff" shape-rendering="crispEdges"/>
<rect x="305" y="56" width="5" height="110" fill="#0000ff" shape-rendering="crispEdges"/>
<rect x="306" y="57" width="3" height="108" fill="#000080" shape-rendering="crispEdges"/>
<rect x="315" y="35" width="1" height="30" fill="#0000ff" shape-rendering="crispEdges"/>
<rect x="313" y="54" width="5" height="3" fill="#0000ff" shape-rendering="crispEdges"/>
<rect x="314" y="55" width="3" height="1" fill="#000080" shape-rendering="crispEdges"/>
<rect x="323" y="19" width="1" height="42" fill="#ff0000" shape-rendering="crispEdges"/>
<rect x="321" y="38" width="5" height="12" fill="#ff0000" shape-rendering="crispEdges"/>
<rect x="331" y="42" width="1" height="25" fill="#ff0000" shape-rendering="crispEdges"/>
<rect x="329" y="49" width="5" height="1" fill="#ff0000" shape-rendering="crispEdges"/>
<rect x="339" y="35" width="1" height="62" fill="#ff0000" shape-rendering="crispEdges"/>
<rect x="337" y="49" width="5" height="43" fill="#ff0000" shape-rendering="crispEdges"/>
<rect x="347" y="76" width="1" height="29" fill="#ff0000" shape-rendering="crispEdges"/>
<rect x="345" y="91" width="5" height="5" fill="#ff0000" shape-rendering="crispEdges"/>
<rect x="355" y="77" width="1" height="27" fill="#ff0000" shape-rendering="crispEdges"/>
<rect x="353" y="95" width="5" height="4" fill="#ff0000" shape-rendering="crispEdges"/>
<rect x="363" y="98" width="1" height="24" fill="#ff0000" shape-rendering="crispEdges"/>
<rect x="361" y="98" width="5" height="16" fill="#ff0000" shape-rendering="crispEdges"/>
<rect x="371" y="104" width="1" height="11" fill="#0000ff" shape-rendering="crispEdges"/>
<rect x="369" y="107" width="5" height="4" fill="#0000ff" shape-rendering="crispEdges"/>
<rect x="370" y="108" width="3" height="2" fill="#000080" shape-rendering="crispEdges"/>
<rect x="379" y="101" width="1" height="15" fill="#ff0000" shape-rendering="crispEdges"/>
<rect x="377" y="106" width="5" height="9" fill="#ff0000" shape-rendering="crispEdges"/>
<rect x="387" y="89" width="1" height="27" fill="#0000ff" shape-rendering="crispEdges"/>
<rect x="385" y="93" width="5" height="22" fill="#0000ff" shape-rendering="crispEdges"/>
<rect x="386" y="94" width="3" height="20" fill="#000080" shape-rendering="crispEdges"/>
<rect x="395" y="90" width="1" height="23" fill="#ff0000" shape-rendering="crispEdges"/>
<rect x="393" y="93" width="5" height="7" fill="#ff0000" shape-rendering="crispEdges"/>
<rect x="403" y="99" width="1" height="35" fill="#ff0000" shape-rendering="crispEdges"/>
<rect x="401" y="99" width="5" height="19" fill="#ff0000" shape-rendering="crispEdges"/>
<rect x="411" y="117" width="1" height="15" fill="#ff0000" shape-rendering="crispEdges"/>
<rect x="409" y="117" width="5" height="12" fill="#ff0000" shape-rendering="crispEdges"/>
<rect x="419" y="122" width="1" height="10" fill="#ff0000" shape-rendering="crispEdges"/>
<rect x="417" y="126" width="5" height="4" fill="#ff0000" shape-rendering="crispEdges"/>
<rect x="427" y="127" width="1" height="9" fill="#ff0000" shape-rendering="crispEdges"/>
<rect x="425" y="129" width="5" height="3" fill="#ff0000" shape-rendering="crispEdges"/>
<rect x="435" y="115" width="1" height="23" fill="#0000ff" shape-rendering="crispEdges"/>
<rect x="433" y="128" width="5" height="4" fill="#0000ff" shape-rendering="crispEdges"/>
<rect x="434" y="129" width="3" height="2" fill="#000080" shape-rendering="crispEdges"/>
<rect x="443" y="115" width="1" height="27" fill="#ff0000" shape-rendering="crispEdges"/>
<rect x="441" y="128" width="5" height="12" fill="#ff0000" shape-rendering="crispEdges"/>
<rect x="451" y="132" width="1" height="20" fill="#ff0000" shape-rendering="crispEdges"/>
<rect x="449" y="139" width="5" height="5" fill="#ff0000" shape-rendering="crispEdges"/>
<rect x="459" y="133" width="1" height="17" fill="#ff0000" shape-rendering="crispEdges"/>
<rect x="457" y="143" width="5" height="2" fill="#ff0000" shape-rendering="crispEdges"/>
<rect x="467" y="131" width="1" height="15" fill="#0000ff" shape-rendering="crispEdges"/>
<rect x="465" y="133" width="5" height="13" fill="#0000ff" shape-rendering="crispEdges"/>
<rect x="466" y="134" width="3" height="11" fill="#000080" shape-rendering="crispEdges"/>
<rect x="475" y="130" width="1" height="11" fill="#ff0000" shape-rendering="crispEdges"/>
<rect x="473" y="134" width="5" height="6" fill="#ff0000" shape-rendering="crispEdges"/>
<rect x="483" y="132" width="1" height="18" fill="#ff0000" shape-rendering="crispEdges"/>
<rect x="481" y="139" width="5" height="8" fill="#ff0000" shape-rendering="crispEdges"/>
<rect x="491" y="138" width="1" height="20" fill="#ff0000" shape-rendering="crispEdges"/>
<rect x="489" y="147" width="5" height="9" fill="#ff0000" shape-rendering="crispEdges"/>
<rect x="499" y="122" width="1" height="64" fill="#ff0000" shape-rendering="crispEdges"/>
<rect x="497" y="155" width="5" height="26" fill="#ff0000" shape-rendering="crispEdges"/>
<rect x="507" y="172" width="1" height="25" fill="#0000ff" shape-rendering="crispEdges"/>
<rect x="505" y="175" width="5" height="7" fill="#0000ff" shape-rendering="crispEdges"/>
<rect x="506" y="176" width="3" height="5" fill="#000080" shape-rendering="crispEdges"/>
<rect x="515" y="170" width="1" height="14" fill="#ff0000" shape-rendering="crispEdges"/>
<rect x="513" y="176" width="5" height="4" fill="#ff0000" shape-rendering="crispEdges"/>
<rect x="523" y="179" width="1" height="18" fill="#ff0000" shape-rendering="crispEdges"/>
<rect x="521" y="179" width="5" height="14" fill="#ff0000" shape-rendering="crispEdges"/>
<rect x="531" y="182" width="1" height="28" fill="#ff0000" shape-rendering="crispEdges"/>
<rect x="529" y="192" width="5" height="11" fill="#ff0000" shape-rendering="crispEdges"/>
<rect x="539" y="190" width="1" height="19" fill="#ff0000" shape-rendering="crispEdges"/>
<rect x="537" y="201" width="5" height="2" fill="#ff0000" shape-rendering="crispEdges"/>
<rect x="547" y="171" width="1" height="110" fill="#ff0000" shape-rendering="crispEdges"/>
<rect x="545" y="201" width="5" height="76" fill="#ff0000" shape-rendering="crispEdges"/>
<rect x="555" y="265" width="1" height="47" fill="#0000ff" shape-rendering="crispEdges"/>
<rect x="553" y="272" width="5" height="5" fill="#0000ff" shape-rendering="crispEdges"/>
<rect x="554" y="273" width="3" height="3" fill="#000080" shape-rendering="crispEdges"/>
<rect x="563" y="262" width="1" height="21" fill="#0000ff" shape-rendering="crispEdges"/>
<rect x="561" y="269" width="5" height="5" fill="#0000ff" shape-rendering="crispEdges"/>
<rect x="562" y="270" width="3" height="3" fill="#000080" shape-rendering="crispEdges"/>
</g>
<g clip-path="url(#cc)">
<line x1="4" y1="341.5" x2="614" y2="341.5" stroke="#4682b4" stroke-width="1" shape-rendering="crispEdges"/>
<line x1="4" y1="358.5" x2="614" y2="358.5" stroke="#4682b4" stroke-width="1" shape-rendering="crispEdges"/>
<line x1="4" y1="391.5" x2="614" y2="391.5" stroke="#4682b4" stroke-width="1" shape-rendering="crispEdges"/>
<line x1="4" y1="408.5" x2="614" y2="408.5" stroke="#4682b4" stroke-width="1" shape-rendering="crispEdges"/>
<path d="M322 328h2v1h-2zM320 329h6v1h-6zM318 330h9v1h-9zM317 331h4v1h-4zM325 331h4v1h-4zM315 332h4v1h-4zM326 332h5v1h-5zM314 333h4v1h-4zM328 333h4v1h-4zM314 334h2v1h-2zM330 334h3v1h-3zM313 335h3v1h-3zM331 335h2v1h-2zM313 336h2v1h-2zM331 336h3v1h-3zM313 337h2v1h-2zM332 337h2v1h-2zM312 338h3v1h-3zM332 338h3v1h-3zM312 339h2v1h-2zM333 339h3v1h-3zM312 340h2v1h-2zM334 340h2v1h-2zM311 341h3v1h-3zM334 341h3v1h-3zM311 342h2v1h-2zM335 342h3v1h-3zM311 343h2v1h-2zM336 343h2v1h-2zM310 344h3v1h-3zM336 344h3v1h-3zM310 345h2v1h-2zM337 345h2v1h-2zM310 346h2v1h-2zM337 346h3v1h-3zM309 347h3v1h-3zM338 347h3v1h-3zM309 348h2v1h-2zM339 348h2v1h-2zM309 349h2v1h-2zM339 349h3v1h-3zM308 350h3v1h-3zM340 350h3v1h-3zM308 351h2v1h-2zM341 351h2v1h-2zM308 352h2v1h-2zM341 352h3v1h-3zM307 353h3v1h-3zM342 353h3v1h-3zM307 354h2v1h-2zM343 354h2v1h-2zM307 355h2v1h-2zM343 355h3v1h-3zM306 356h3v1h-3zM344 356h3v1h-3zM306 357h2v1h-2zM345 357h2v1h-2zM306 358h2v1h-2zM345 358h11v1h-11zM306 359h2v1h-2zM346 359h11v1h-11zM305 360h3v1h-3zM355 360h2v1h-2zM305 361h2v1h-2zM355 361h3v1h-3zM305 362h2v1h-2zM356 362h3v1h-3zM305 363h2v1h-2zM357 363h3v1h-3zM305 364h2v1h-2zM358 364h2v1h-2zM386 364h5v1h-5zM305 365h2v1h-2zM358 365h3v1h-3zM384 365h12v1h-12zM304 366h3v1h-3zM359 366h3v1h-3zM382 366h5v1h-5zM390 366h7v1h-7zM304 367h2v1h-2zM360 367h3v1h-3zM381 367h4v1h-4zM395 367h3v1h-3zM304 368h2v1h-2zM361 368h2v1h-2zM379 368h4v1h-4zM396 368h3v1h-3zM304 369h2v1h-2zM361 369h21v1h-21zM397 369h3v1h-3zM304 370h2v1h-2zM362 370h18v1h-18zM398 370h2v1h-2zM303 371h3v1h-3zM398 371h3v1h-3zM303 372h2v1h-2zM399 372h3v1h-3zM303 373h2v1h-2zM400 373h3v1h-3zM303 374h2v1h-2zM401 374h4v1h-4zM303 375h2v1h-2zM402 375h5v1h-5zM302 376h3v1h-3zM404 376h6v1h-6zM302 377h2v1h-2zM406 377h6v1h-6zM302 378h2v1h-2zM409 378h5v1h-5zM302 379h2v1h-2zM411 379h5v1h-5zM302 380h2v1h-2zM413 380h5v1h-5zM430 380h7v1h-7zM198 381h15v1h-15zM241 381h3v1h-3zM302 381h2v1h-2zM415 381h26v1h-26zM190 382h25v1h-25zM239 382h6v1h-6zM301 382h3v1h-3zM417 382h14v1h-14zM436 382h8v1h-8zM182 383h17v1h-17zM212 383h6v1h-6zM237 383h5v1h-5zM243 383h4v1h-4zM301 383h2v1h-2zM440 383h6v1h-6zM169 384h22v1h-22zM214 384h9v1h-9zM235 384h5v1h-5zM244 384h4v1h-4zM301 384h2v1h-2zM443 384h4v1h-4zM470 384h7v1h-7zM167 385h16v1h-16zM217 385h21v1h-21zM246 385h3v1h-3zM301 385h2v1h-2zM445 385h4v1h-4zM464 385h15v1h-15zM165 386h5v1h-5zM222 386h14v1h-14zM247 386h4v1h-4zM254 386h17v1h-17zM301 386h2v1h-2zM446 386h5v1h-5zM460 386h11v1h-11zM476 386h6v1h-6zM163 387h5v1h-5zM248 387h28v1h-28zM300 387h3v1h-3zM448 387h17v1h-17zM478 387h7v1h-7zM160 388h6v1h-6zM250 388h5v1h-5zM270 388h7v1h-7zM300 388h2v1h-2zM450 388h11v1h-11zM481 388h6v1h-6zM156 389h8v1h-8zM275 389h3v1h-3zM300 389h2v1h-2zM484 389h6v1h-6zM104 390h13v1h-13zM136 390h25v1h-25zM276 390h3v1h-3zM300 390h2v1h-2zM486 390h6v1h-6zM100 391h21v1h-21zM132 391h25v1h-25zM277 391h3v1h-3zM300 391h2v1h-2zM489 391h5v1h-5zM97 392h8v1h-8zM116 392h21v1h-21zM278 392h2v1h-2zM299 392h3v1h-3zM491 392h4v1h-4zM94 393h7v1h-7zM120 393h13v1h-13zM278 393h3v1h-3zM299 393h2v1h-2zM493 393h4v1h-4zM92 394h6v1h-6zM279 394h3v1h-3zM299 394h2v1h-2zM494 394h5v1h-5zM86 395h9v1h-9zM280 395h3v1h-3zM299 395h2v1h-2zM496 395h4v1h-4zM80 396h13v1h-13zM281 396h11v1h-11zM299 396h2v1h-2zM498 396h3v1h-3zM76 397h11v1h-11zM282 397h12v1h-12zM299 397h2v1h-2zM499 397h3v1h-3zM73 398h8v1h-8zM291 398h5v1h-5zM298 398h3v1h-3zM500 398h3v1h-3zM70 399h7v1h-7zM293 399h7v1h-7zM501 399h4v1h-4zM68 400h6v1h-6zM295 400h5v1h-5zM502 400h4v1h-4zM512 400h5v1h-5zM66 401h5v1h-5zM297 401h3v1h-3zM504 401h3v1h-3zM508 401h11v1h-11zM65 402h4v1h-4zM505 402h8v1h-8zM516 402h6v1h-6zM6 403h6v1h-6zM64 403h3v1h-3zM506 403h3v1h-3zM518 403h9v1h-9zM3 404h10v1h-10zM63 404h3v1h-3zM521 404h19v1h-19zM3 405h4v1h-4zM11 405h2v1h-2zM62 405h3v1h-3zM526 405h15v1h-15zM11 406h3v1h-3zM61 406h3v1h-3zM539 406h2v1h-2zM12 407h2v1h-2zM60 407h3v1h-3zM539 407h3v1h-3zM12 408h3v1h-3zM59 408h3v1h-3zM540 408h2v1h-2zM13 409h3v1h-3zM38 409h23v1h-23zM540 409h3v1h-3zM14 410h2v1h-2zM33 410h27v1h-27zM541 410h3v1h-3zM14 411h3v1h-3zM30 411h9v1h-9zM542 411h2v1h-2zM15 412h3v1h-3zM28 412h6v1h-6zM542 412h3v1h-3zM16 413h2v1h-2zM25 413h6v1h-6zM543 413h3v1h-3zM16 414h3v1h-3zM22 414h7v1h-7zM544 414h2v1h-2zM17 415h2v1h-2zM20 415h6v1h-6zM544 415h3v1h-3zM562 415h2v1h-2zM17 416h6v1h-6zM545 416h2v1h-2zM561 416h3v1h-3zM18 417h3v1h-3zM545 417h3v1h-3zM560 417h3v1h-3zM546 418h3v1h-3zM559 418h3v1h-3zM547 419h4v1h-4zM558 419h3v1h-3zM548 420h4v1h-4zM557 420h3v1h-3zM550 421h3v1h-3zM556 421h3v1h-3zM551 422h7v1h-7zM552 423h5v1h-5zM554 424h2v1h-2z" fill="#7cfc00" shape-rendering="crispEdges"/>
</g>
<rect x="2.5" y="2.5" width="612" height="318" fill="none" stroke="#000" stroke-width="1" shape-rendering="crispEdges"/>
<rect x="2.5" y="322.5" width="612" height="107" fill="none" stroke="#000" stroke-width="1" shape-rendering="crispEdges"/>
<rect x="615" y="20" width="2" height="1" fill="#000" shape-rendering="crispEdges"/>
<rect x="615" y="53" width="2" height="1" fill="#000" shape-rendering="crispEdges"/>
<rect x="615" y="86" width="2" height="1" fill="#000" shape-rendering="crispEdges"/>
<rect x="615" y="119" width="2" height="1" fill="#000" shape-rendering="crispEdges"/>
<rect x="615" y="152" width="2" height="1" fill="#000" shape-rendering="crispEdges"/>
<rect x="615" y="185" width="2" height="1" fill="#000" shape-rendering="crispEdges"/>
<rect x="615" y="218" width="2" height="1" fill="#000" shape-rendering="crispEdges"/>
<rect x="615" y="251" width="2" height="1" fill="#000" shape-rendering="crispEdges"/>
<rect x="615" y="284" width="2" height="1" fill="#000" shape-rendering="crispEdges"/>
<rect x="615" y="317" width="2" height="1" fill="#000" shape-rendering="crispEdges"/>
<rect x="616" y="264" width="41" height="11" fill="#000" shape-rendering="crispEdges"/>
<rect x="616" y="336" width="17" height="11" fill="#4682b4" shape-rendering="crispEdges"/>
<rect x="616" y="353" width="17" height="11" fill="#4682b4" shape-rendering="crispEdges"/>
<rect x="616" y="386" width="20" height="11" fill="#4682b4" shape-rendering="crispEdges"/>
<rect x="616" y="403" width="20" height="11" fill="#4682b4" shape-rendering="crispEdges"/>
<rect x="615" y="324" width="2" height="1" fill="#000" shape-rendering="crispEdges"/>
<rect x="615" y="375" width="2" height="1" fill="#000" shape-rendering="crispEdges"/>
<rect x="615" y="428" width="2" height="1" fill="#000" shape-rendering="crispEdges"/>
<rect x="3" y="430" width="1" height="3" fill="#000" shape-rendering="crispEdges"/>
<rect x="67" y="430" width="1" height="3" fill="#000" shape-rendering="crispEdges"/>
<rect x="131" y="430" width="1" height="3" fill="#000" shape-rendering="crispEdges"/>
<rect x="195" y="430" width="1" height="3" fill="#000" shape-rendering="crispEdges"/>
<rect x="259" y="430" width="1" height="3" fill="#000" shape-rendering="crispEdges"/>
<rect x="323" y="430" width="1" height="3" fill="#000" shape-rendering="crispEdges"/>
<rect x="387" y="430" width="1" height="3" fill="#000" shape-rendering="crispEdges"/>
<rect x="451" y="430" width="1" height="3" fill="#000" shape-rendering="crispEdges"/>
<rect x="515" y="430" width="1" height="3" fill="#000" shape-rendering="crispEdges"/>
<path d="M6 9h7v1h-7zM7 10h5v1h-5zM8 11h3v1h-3zM9 12h1v1h-1z" fill="#000" shape-rendering="crispEdges"/>
<text x="18.50" y="14.00" textLength="53.10" lengthAdjust="spacingAndGlyphs">EURUSD,H4</text>
<text x="78.50" y="14.00" textLength="32.10" lengthAdjust="spacingAndGlyphs">1.09886</text>
<text x="114.50" y="14.00" textLength="32.10" lengthAdjust="spacingAndGlyphs">1.09961</text>
<text x="150.50" y="14.00" textLength="32.10" lengthAdjust="spacingAndGlyphs">1.09825</text>
<text x="186.50" y="14.00" textLength="32.10" lengthAdjust="spacingAndGlyphs">1.09915</text>
<text x="620.50" y="24.00" textLength="32.10" lengthAdjust="spacingAndGlyphs">1.11625</text>
<text x="620.50" y="57.00" textLength="32.10" lengthAdjust="spacingAndGlyphs">1.11400</text>
<text x="620.50" y="90.00" textLength="32.10" lengthAdjust="spacingAndGlyphs">1.11175</text>
<text x="620.50" y="123.00" textLength="32.10" lengthAdjust="spacingAndGlyphs">1.10945</text>
<text x="620.50" y="156.00" textLength="32.10" lengthAdjust="spacingAndGlyphs">1.10720</text>
<text x="620.50" y="189.00" textLength="32.10" lengthAdjust="spacingAndGlyphs">1.10495</text>
<text x="620.50" y="222.00" textLength="32.10" lengthAdjust="spacingAndGlyphs">1.10265</text>
<text x="620.50" y="255.00" textLength="32.10" lengthAdjust="spacingAndGlyphs">1.10040</text>
<text x="620.50" y="288.00" textLength="32.10" lengthAdjust="spacingAndGlyphs">1.09815</text>
<text x="620.50" y="321.00" textLength="32.10" lengthAdjust="spacingAndGlyphs">1.09585</text>
<text x="620.50" y="273.00" textLength="32.10" lengthAdjust="spacingAndGlyphs" style="fill:#fff;stroke:#fff">1.09915</text>
<text x="619.40" y="333.00" textLength="36.20" lengthAdjust="spacingAndGlyphs">302.5056</text>
<text x="618.40" y="345.00" textLength="13.20" lengthAdjust="spacingAndGlyphs" style="fill:#fff;stroke:#fff">200</text>
<text x="617.50" y="362.00" textLength="14.10" lengthAdjust="spacingAndGlyphs" style="fill:#fff;stroke:#fff">100</text>
<text x="619.40" y="379.00" textLength="16.20" lengthAdjust="spacingAndGlyphs">0.00</text>
<text x="617.40" y="395.00" textLength="17.20" lengthAdjust="spacingAndGlyphs" style="fill:#fff;stroke:#fff">-100</text>
<text x="617.40" y="412.00" textLength="17.20" lengthAdjust="spacingAndGlyphs" style="fill:#fff;stroke:#fff">-200</text>
<text x="618.40" y="426.00" textLength="40.20" lengthAdjust="spacingAndGlyphs">-319.6636</text>
<text x="7.40" y="335.00" textLength="33.20" lengthAdjust="spacingAndGlyphs">CCI(40)</text>
<text x="44.40" y="335.00" textLength="40.20" lengthAdjust="spacingAndGlyphs">-239.3285</text>
<text x="2.50" y="442.00" textLength="52.10" lengthAdjust="spacingAndGlyphs" style="word-spacing:1.6px">15 Aug 2019</text>
<text x="66.50" y="442.00" textLength="55.10" lengthAdjust="spacingAndGlyphs" style="word-spacing:1.6px">16 Aug 16:00</text>
<text x="130.40" y="442.00" textLength="55.10" lengthAdjust="spacingAndGlyphs" style="word-spacing:1.6px">20 Aug 00:00</text>
<text x="194.40" y="442.00" textLength="55.10" lengthAdjust="spacingAndGlyphs" style="word-spacing:1.6px">21 Aug 08:00</text>
<text x="258.40" y="442.00" textLength="55.10" lengthAdjust="spacingAndGlyphs" style="word-spacing:1.6px">22 Aug 16:00</text>
<text x="322.40" y="442.00" textLength="55.10" lengthAdjust="spacingAndGlyphs" style="word-spacing:1.6px">26 Aug 00:00</text>
<text x="386.40" y="442.00" textLength="55.10" lengthAdjust="spacingAndGlyphs" style="word-spacing:1.6px">27 Aug 08:00</text>
<text x="450.40" y="442.00" textLength="55.10" lengthAdjust="spacingAndGlyphs" style="word-spacing:1.6px">28 Aug 16:00</text>
<text x="514.40" y="442.00" textLength="55.10" lengthAdjust="spacingAndGlyphs" style="word-spacing:1.6px">30 Aug 00:00</text>
</svg></body></html>
